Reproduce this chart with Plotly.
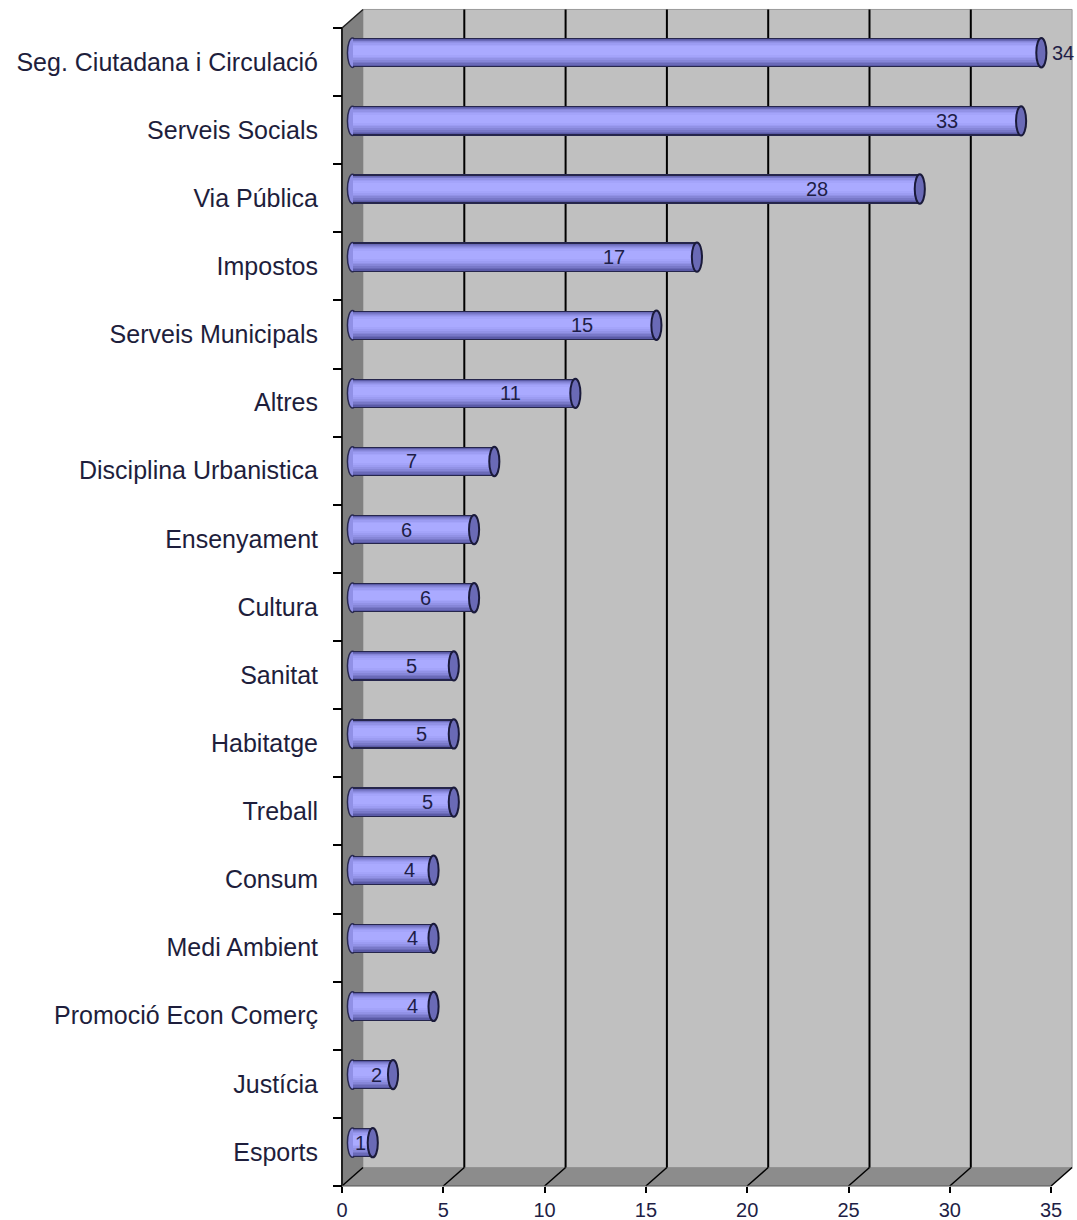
import plotly.graph_objects as go

# Categories (top to bottom) and counts
categories = [
    "Seg. Ciutadana i Circulació", "Serveis Socials", "Via Pública", "Impostos",
    "Serveis Municipals", "Altres", "Disciplina Urbanistica", "Ensenyament",
    "Cultura", "Sanitat", "Habitatge", "Treball", "Consum", "Medi Ambient",
    "Promoció Econ Comerç", "Justícia", "Esports",
]
values = [34, 33, 28, 17, 15, 11, 7, 6, 6, 5, 5, 5, 4, 4, 4, 2, 1]
x_ticks = [0, 5, 10, 15, 20, 25, 30, 35]

# Where each value label sits along the x axis (axis units)
label_x = [35.6, 29.86, 23.45, 13.43, 11.85, 8.34, 3.41, 3.16, 4.10,
           3.41, 3.90, 4.20, 3.31, 3.50, 3.50, 1.68, 0.89]

# ---- geometry of the pseudo-3D box ----
W, H = 1077, 1220
PX0, PXU = 342.0, 20.26      # pixel of x=0, pixels per x unit
PY0, PYU = 1186.0, 68.12     # pixel of y=0 (front floor), pixels per category
LEFT, RIGHT, TOP, BOTTOM = 328, 1077, 6, 1196
XMAX = 35
N = len(categories)
DX = 21 / PXU                # depth offset in x units
DY = 18.5 / PYU              # depth offset in y units

xr = [(LEFT - PX0) / PXU, (RIGHT - PX0) / PXU]
yr = [(PY0 - BOTTOM) / PYU, (PY0 - TOP) / PYU]

# front centre of each category row (top category is highest)
ypos = [N - i - 0.5 for i in range(N)]
bar_y = [y + DY / 2 for y in ypos]
BAR_H = 0.43
BASE = DX / 2

shapes = []


def poly(pts, fill, line_color=None, width=0, layer="below"):
    path = "M " + " L ".join(f"{x},{y}" for x, y in pts) + " Z"
    shapes.append(dict(type="path", path=path, xref="x", yref="y",
                       fillcolor=fill, layer=layer,
                       line=dict(color=line_color or fill, width=width)))


def seg(x0, y0, x1, y1, color="black", width=2, layer="below"):
    shapes.append(dict(type="line", x0=x0, y0=y0, x1=x1, y1=y1,
                       xref="x", yref="y", layer=layer,
                       line=dict(color=color, width=width)))


# back wall
poly([(DX, DY), (XMAX + DX, DY), (XMAX + DX, N + DY), (DX, N + DY)],
     "#c0c0c0", "#9a9a9a", 1)
# left side wall
poly([(0, 0), (DX, DY), (DX, N + DY), (0, N)], "#808080")
# floor
poly([(0, 0), (XMAX, 0), (XMAX + DX, DY), (DX, DY)], "#8c8c8c")

# gridlines on back wall and their continuation across the floor
for t in x_ticks:
    if 0 < t < XMAX:
        seg(t + DX, DY, t + DX, N + DY, "black", 2)
    seg(t, 0, t + DX, DY, "black", 1.5)

# box edges
seg(0, 0, 0, N, "#202020", 2)
seg(0, N, DX, N + DY, "#202020", 1.5)
seg(0, 0, XMAX, 0, "#555555", 1)

# rounded left ends of the cylinders (sit underneath the bodies)
CAP_W = 0.25
for y in bar_y:
    shapes.append(dict(type="circle", xref="x", yref="y", layer="below",
                       x0=BASE - CAP_W, x1=BASE + CAP_W,
                       y0=y - BAR_H / 2, y1=y + BAR_H / 2,
                       fillcolor="#9090e6", line=dict(color="#2a2a50", width=1.5)))

# right end caps of the cylinders
for v, y in zip(values, bar_y):
    xc = BASE + v
    shapes.append(dict(type="circle", xref="x", yref="y", layer="above",
                       x0=xc - CAP_W, x1=xc + CAP_W,
                       y0=y - BAR_H / 2, y1=y + BAR_H / 2,
                       fillcolor="#6a6ab6", line=dict(color="#1a1a3a", width=2)))

fig = go.Figure()

# cylinder bodies: stacked bands give the rounded shading
bands = [
    (1.00, 0.000, "#26264c"),
    (0.92, 0.000, "#5a5aa6"),
    (0.85, 0.006, "#6a6ab8"),
    (0.78, 0.012, "#7878c8"),
    (0.70, 0.018, "#8686d8"),
    (0.61, 0.024, "#9292e6"),
    (0.51, 0.028, "#9c9cf2"),
    (0.40, 0.031, "#a4a4fa"),
    (0.28, 0.033, "#aaaaff"),
]
for frac, shift, color in bands:
    fig.add_trace(go.Bar(
        orientation="h", x=values, y=[y + shift for y in bar_y],
        base=BASE, width=BAR_H * frac,
        marker=dict(color=color, line=dict(width=0)),
        hoverinfo="skip", showlegend=False,
    ))

annotations = []
for v, lx, y in zip(values, label_x, bar_y):
    annotations.append(dict(x=lx, y=y, xref="x", yref="y", text=str(v),
                            showarrow=False, xanchor="center", yanchor="middle",
                            font=dict(family="Liberation Sans", size=20,
                                      color="#1e1e46")))

fig.update_layout(
    width=W, height=H,
    margin=dict(l=LEFT, r=W - RIGHT, t=TOP, b=H - BOTTOM, pad=0),
    paper_bgcolor="white", plot_bgcolor="white",
    barmode="overlay", bargap=0,
    shapes=shapes, annotations=annotations,
    font=dict(family="Liberation Sans", color="#1e1e3c"),
    xaxis=dict(
        range=xr, showgrid=False, zeroline=False, showline=False,
        tickmode="array", tickvals=x_ticks, ticktext=[str(t) for t in x_ticks],
        ticks="outside", ticklen=6, tickwidth=2, tickcolor="black",
        tickfont=dict(size=20, family="Liberation Sans", color="#1e1e46"),
        anchor="free", position=(0 - yr[0]) / (yr[1] - yr[0]),
        automargin=False, fixedrange=True,
    ),
    yaxis=dict(
        range=yr, showgrid=False, zeroline=False, showline=False,
        tickmode="array", tickvals=ypos, ticktext=categories,
        ticks="", ticklabelstandoff=24,
        tickfont=dict(size=25, family="Liberation Sans", color="#1e1e3c"),
        minor=dict(ticks="outside", ticklen=9, tickwidth=2, tickcolor="black",
                   tick0=0, dtick=1, showgrid=False),
        anchor="free", position=(0 - xr[0]) / (xr[1] - xr[0]),
        automargin=False, fixedrange=True,
    ),
)

fig.write_html("out.html")
